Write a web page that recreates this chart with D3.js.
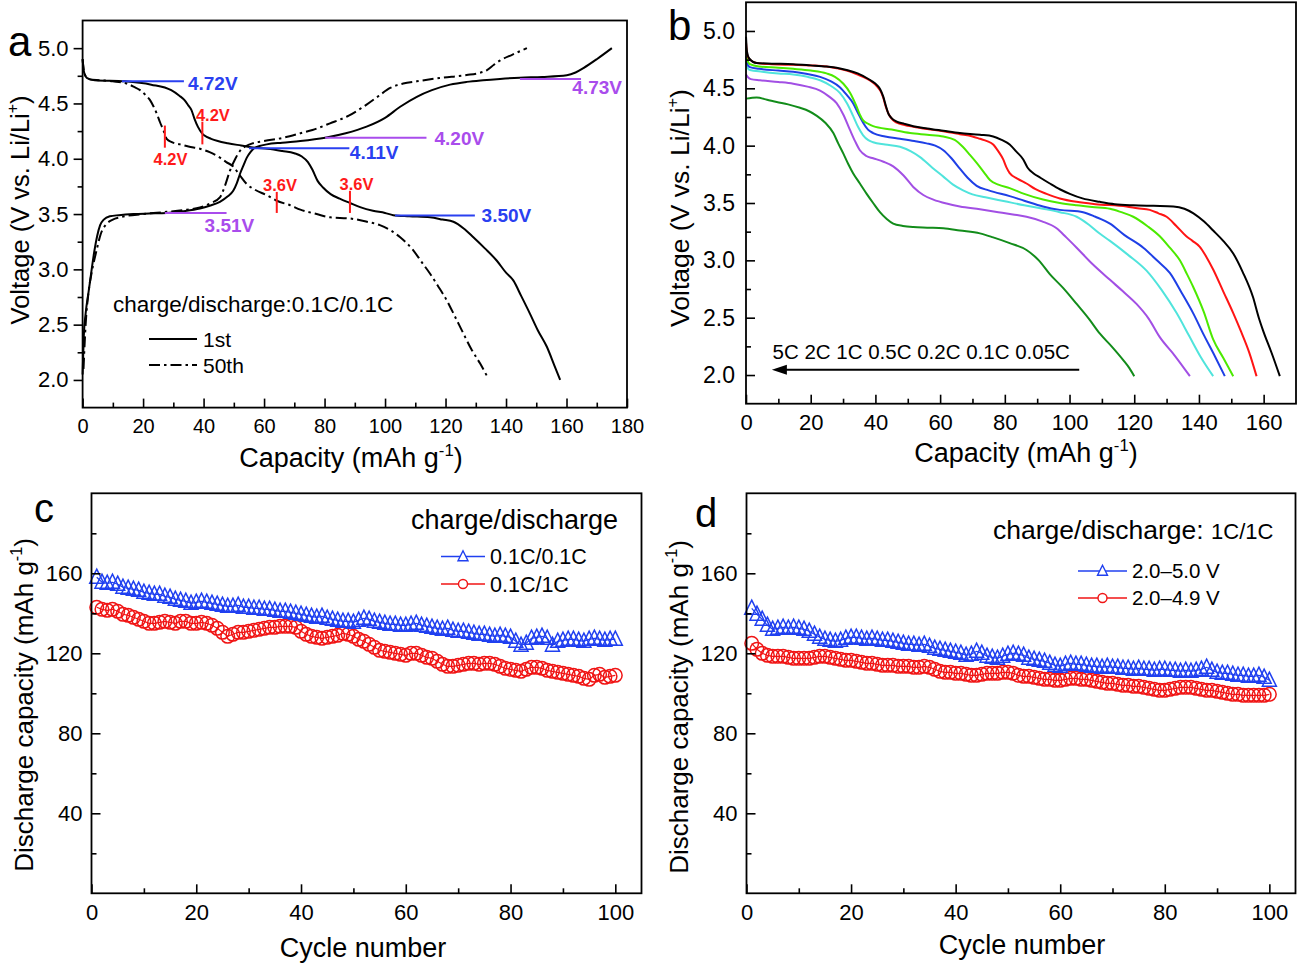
<!DOCTYPE html>
<html><head><meta charset="utf-8">
<script src="https://cdn.jsdelivr.net/npm/d3@7"></script>
<style>body{margin:0;background:#fff}svg{display:block;font-family:"Liberation Sans",Arial,sans-serif}</style>
</head><body><svg id="fig" width="1299" height="964"></svg>
<script>
// ---------------- DATA ----------------
// Panel a: voltage profiles [capacity mAh/g, voltage V]
const aCharge1st = [[0,2.05],[0.4,2.4],[1,2.6],[2,2.8],[3,3.0],[3.8,3.15],[4.8,3.3],[5.8,3.4],[7,3.45],[9,3.48],[12,3.49],[16.8,3.5],[22,3.505],[27.8,3.51],[33,3.525],[38.8,3.55],[42,3.575],[45.4,3.61],[48,3.66],[49.8,3.71],[51,3.78],[52,3.86],[53.2,3.94],[54.3,4.01],[55.5,4.06],[56.5,4.09],[58.5,4.115],[60.9,4.13],[66,4.145],[72,4.16],[80.2,4.19],[87,4.23],[93.9,4.29],[100,4.37],[105,4.47],[110.5,4.56],[115.5,4.62],[121.5,4.67],[127,4.695],[132.4,4.71],[138,4.722],[144.6,4.733],[152,4.74],[160.1,4.755],[163,4.78],[165.6,4.82],[170,4.9],[175,5.0]];
const aCharge50th = [[0.3,2.1],[1,2.5],[2,2.8],[3,2.97],[4.6,3.17],[6,3.32],[7.9,3.41],[10,3.45],[12.3,3.47],[20,3.5],[27.8,3.52],[33,3.535],[38.8,3.56],[42.5,3.6],[45.4,3.65],[47,3.75],[48.7,3.89],[50.5,4.0],[52,4.07],[55.3,4.13],[60,4.16],[66.4,4.19],[72,4.23],[76,4.26],[81.8,4.32],[88,4.39],[93.9,4.49],[98,4.57],[101.7,4.64],[106,4.68],[110.5,4.7],[118,4.73],[127,4.757],[131,4.775],[133.6,4.8],[136,4.85],[138.1,4.89],[142,4.94],[146.9,5.0]];
const aDischarge1st = [[0,4.9],[0.5,4.78],[1.5,4.73],[4,4.71],[14,4.7],[22.7,4.67],[29.3,4.62],[32,4.57],[33.7,4.53],[35,4.48],[36,4.44],[37,4.36],[38.1,4.29],[39.5,4.23],[40.3,4.21],[42.5,4.18],[44.7,4.16],[48,4.14],[52.4,4.12],[57,4.1],[61.2,4.09],[66,4.07],[70,4.05],[72.5,4.02],[74.5,3.97],[76,3.9],[77.7,3.8],[79.5,3.74],[82,3.68],[85,3.64],[88.4,3.6],[92,3.56],[96,3.53],[100,3.51],[102.7,3.49],[108,3.48],[114.9,3.47],[119,3.45],[122.6,3.43],[126,3.37],[129.2,3.29],[133,3.19],[136.9,3.08],[140,2.97],[142.4,2.9],[145,2.76],[147.9,2.6],[150.5,2.45],[153.5,2.3],[156,2.13],[157.9,2.0]];
const aDischarge50th = [[0,4.9],[0.5,4.78],[2,4.72],[5.8,4.71],[10,4.7],[14.6,4.68],[17,4.65],[19,4.62],[21,4.57],[22.3,4.53],[23.5,4.47],[24.5,4.41],[25.6,4.33],[26.7,4.26],[27.8,4.18],[29.5,4.15],[32.2,4.13],[35,4.11],[38.8,4.09],[42,4.06],[45.4,4.01],[47.5,3.97],[49.8,3.93],[52,3.85],[54.3,3.77],[57,3.72],[60.9,3.67],[64.2,3.62],[68.6,3.58],[72,3.54],[77.4,3.5],[81.8,3.47],[88.4,3.46],[94,3.43],[98.3,3.4],[102,3.35],[105,3.29],[109.4,3.17],[112,3.07],[114.9,2.96],[117.5,2.85],[120.4,2.72],[123,2.58],[125.9,2.42],[128.5,2.28],[131.4,2.15],[134.2,2.01]];
// Panel a annotations: plateau levels [label, voltage, capacity from, capacity to, colour key]
const aLevels = [
  ["4.72V", 4.70, 13, 33.5, "blue"],
  ["4.11V", 4.095, 55, 88.2, "blue"],
  ["4.20V", 4.19, 80.2, 113.7, "purple"],
  ["4.73V", 4.72, 144.6, 164.8, "purple"],
  ["3.51V", 3.51, 27.2, 47.6, "purple"],
  ["3.50V", 3.487, 103.3, 129.7, "blue"]
];
// red markers: [label, capacity, V low, V high]
const aMarks = [
  ["4.2V", 39.6, 4.13, 4.335],
  ["4.2V", 27.2, 4.10, 4.30],
  ["3.6V", 64.2, 3.51, 3.70],
  ["3.6V", 88.4, 3.51, 3.71]
];

// Panel b: discharge curves at different rates
const bRates = ["0.05C","0.1C","0.2C","0.5C","1C","2C","5C"];
const b005C = [[0,4.95],[0.3,4.82],[1,4.76],[3.3,4.72],[8,4.715],[14.6,4.71],[20,4.7],[24.9,4.69],[28,4.68],[31.1,4.66],[34.5,4.63],[37.3,4.59],[39,4.56],[40.4,4.53],[41.5,4.49],[42.4,4.43],[43.2,4.35],[44,4.28],[45,4.24],[46.6,4.21],[49,4.19],[51.7,4.17],[56,4.15],[61,4.13],[66.1,4.11],[72.3,4.095],[76.4,4.08],[79,4.05],[81.5,4.01],[83.5,3.95],[85.7,3.88],[87,3.81],[88.8,3.76],[91,3.72],[93.9,3.67],[97,3.62],[100.1,3.58],[104,3.54],[109.4,3.51],[114,3.49],[119.7,3.48],[126,3.475],[132.1,3.47],[135.5,3.45],[138.3,3.41],[141.5,3.34],[144.4,3.26],[147.5,3.17],[150.6,3.06],[153.5,2.9],[156.7,2.68],[158.5,2.5],[159.8,2.39],[162.5,2.19],[165,1.99]];
const b01C = [[0,4.9],[0.3,4.8],[1.2,4.75],[3.3,4.72],[8,4.71],[14.6,4.705],[20,4.7],[24.9,4.69],[28,4.675],[31.1,4.655],[34.5,4.62],[37.3,4.585],[39,4.555],[40.4,4.52],[41.5,4.48],[42.4,4.42],[43.2,4.34],[44.2,4.27],[45.2,4.23],[46.6,4.2],[49,4.18],[51.7,4.165],[56,4.145],[61,4.125],[66.1,4.1],[70,4.08],[72.3,4.06],[74.5,4.04],[76.4,4.01],[78,3.95],[79.5,3.88],[80.5,3.81],[81.5,3.76],[84,3.71],[86.7,3.67],[89.5,3.62],[92.9,3.58],[97,3.54],[102.2,3.51],[108,3.49],[117.6,3.47],[121,3.455],[124.8,3.44],[127.5,3.41],[130,3.38],[133,3.3],[136.1,3.21],[138,3.17],[140.2,3.12],[142.3,3.03],[144.4,2.92],[147.5,2.73],[150.6,2.54],[153,2.38],[155.5,2.2],[157.8,1.99]];
const b02C = [[0,4.86],[0.3,4.76],[1.2,4.71],[4,4.69],[10,4.68],[14.6,4.67],[20,4.655],[24.9,4.63],[27.5,4.6],[30.1,4.54],[32.2,4.46],[34.2,4.34],[35.2,4.27],[36.2,4.22],[37.8,4.19],[39.3,4.17],[45,4.14],[50.7,4.11],[56,4.095],[61,4.08],[64.5,4.05],[67,3.99],[69.2,3.92],[71.3,3.85],[73.5,3.77],[75.4,3.7],[78,3.66],[81.5,3.63],[86,3.58],[91.8,3.53],[97,3.5],[102.2,3.48],[107,3.465],[112.5,3.45],[116,3.42],[119.7,3.38],[124,3.3],[127.9,3.21],[131,3.11],[134.1,3.0],[136.3,2.88],[138.2,2.77],[141.5,2.55],[144.4,2.31],[147.5,2.15],[150.6,1.99]];
const b05C = [[0,4.78],[0.3,4.72],[1.2,4.685],[4,4.67],[10,4.655],[14.6,4.645],[19,4.625],[22.9,4.6],[26.3,4.56],[29,4.51],[31.2,4.44],[33.1,4.37],[34.7,4.28],[36.2,4.2],[37.7,4.14],[39.3,4.11],[43,4.08],[47.6,4.06],[52,4.04],[55.8,4.02],[58.5,4.0],[61,3.96],[63.5,3.89],[66.1,3.8],[68.5,3.72],[71.3,3.65],[75,3.61],[81.5,3.56],[86,3.52],[91.8,3.47],[97,3.44],[104.2,3.42],[108,3.38],[112.5,3.32],[117,3.22],[122.8,3.11],[127,3.0],[131,2.89],[134.6,2.72],[138.2,2.54],[141.5,2.35],[145,2.16],[148,1.99]];
const b1C = [[0,4.74],[0.3,4.69],[1.2,4.66],[5,4.645],[10,4.63],[14.6,4.62],[19,4.6],[22.9,4.57],[26.3,4.52],[29,4.46],[31.2,4.37],[33.1,4.26],[34.7,4.16],[36.2,4.09],[37.7,4.05],[39.3,4.03],[43,4.01],[47.6,3.99],[51,3.95],[53.8,3.9],[57.5,3.81],[61,3.73],[64,3.66],[67.1,3.61],[70,3.575],[74,3.55],[80,3.515],[86,3.48],[91.8,3.45],[97,3.42],[102.2,3.38],[106,3.31],[109,3.24],[112.5,3.17],[118,3.05],[123.8,2.91],[128.5,2.74],[133.1,2.54],[137,2.34],[140.5,2.16],[144.4,1.99]];
const b2C = [[0,4.62],[0.5,4.6],[1.5,4.58],[4.3,4.57],[10,4.555],[14.6,4.54],[19,4.515],[22.9,4.48],[25.6,4.43],[28,4.37],[30.1,4.27],[32.1,4.14],[33.7,4.04],[35.2,3.96],[37.2,3.91],[39.3,3.89],[42.5,3.86],[45.5,3.82],[48.7,3.74],[51.7,3.64],[54.8,3.57],[57.9,3.53],[62,3.495],[66.1,3.47],[72.3,3.445],[78,3.42],[82.5,3.4],[86.7,3.38],[91.5,3.34],[96,3.28],[99,3.2],[102.2,3.11],[107,2.97],[112.5,2.83],[116.5,2.73],[120.7,2.62],[124.5,2.49],[127.9,2.33],[132.5,2.17],[137.2,1.99]];
const b5C = [[0,4.41],[3.3,4.42],[6.5,4.4],[9.5,4.38],[13,4.36],[16.7,4.33],[19.5,4.3],[21.9,4.26],[24.5,4.2],[27,4.11],[28.5,4.02],[30.1,3.93],[31.6,3.84],[33.1,3.76],[35.2,3.67],[37.3,3.58],[39.3,3.5],[41.4,3.42],[43.5,3.36],[45.5,3.32],[48.5,3.3],[51.7,3.29],[56,3.285],[61,3.28],[66.1,3.26],[72.3,3.235],[76.4,3.2],[81.5,3.15],[86.7,3.09],[90.5,3.0],[93.9,2.88],[98,2.76],[102.2,2.62],[106,2.49],[109.4,2.36],[113,2.25],[116.6,2.13],[118.5,2.06],[120,1.99]];
const bCurves = [b005C, b01C, b02C, b05C, b1C, b2C, b5C];

// Panel c: discharge capacity vs cycle (cycles 1..100)
const cycles = d3.range(1, 101);
const cRate01_01 = [158,155.5,155,155.5,154.5,153,152.5,152,151.5,150.5,
 150,149.5,149.5,148.5,148,147,146.5,146,145,145.5,
 146,145.5,145,144.5,144,143.5,143.5,144,143,143,
 142.5,142.5,142,142,141.5,141,141,140.5,140,139.5,
 139,138.5,138,138.5,137.5,137,136.5,136,136,135.5,
 136.5,137.5,137,136,135.5,135,134.5,134.5,134,134,
 134.5,135,134,133.5,133,132.5,132,132.5,131.5,131,
 131,130.5,130,129.5,129.5,129,128.5,129,128.5,128,
 126,124,125,127.5,128,128.5,127.5,124,126,126.5,
 127,127,126.5,126,127,127.5,127,126.5,127,127];
const cRate01_1 = [143,142,141.5,142,141,139.5,139,138,137,136,
 135,135,135.5,136,135.5,135,136,136,135,135,
 135.5,135,134,132.5,130.5,128.5,129.5,130.5,130.5,131,
 131.5,132,132.5,133,133,133.5,133.5,133.5,133,131,
 129.5,128.5,128,127.5,128,128.5,129,130,129.5,128.5,
 127,126,124.5,123,121.5,121,120.5,120,119.5,119,
 120,120,119,118,117.5,116,114.5,113.5,113.5,114,
 114.5,115,115,114.5,115,115,114.5,113.5,112.5,112,
 111.5,111,112,113,113,112.5,111.5,111,110.5,110,
 109.5,109,108.5,107.5,107,109,109.5,108,108.5,109];
// Panel d
const dRange50 = [142.5,139.5,137,134,132,132.5,133,132.5,133,132.5,
 132,131,129.5,128,127,126.5,126,126.5,127.5,128,
 128,127.5,127,127.5,127,126.5,126.5,126,125.5,125,
 124.5,124.5,124,124.5,123.5,122.5,122,121.5,121,120.5,
 120,119,119.5,121,120,118.5,118,117.5,118.5,119.5,
 120,119.5,119,117.5,117,116.5,116,115,114,113.5,
 114.5,115,114.5,114.5,114,113.5,113.5,113,113.5,113,
 113,112.5,112.5,112,112.5,112,112,111.5,112,112,
 111.5,111.5,111,111.5,111,111.5,112,113,111.5,110.5,
 110,110,109.5,109,109,108.5,108.5,109,108,106.5];
const dRange49 = [125,122,120,119,118.5,118.5,118.5,118,117.5,117.5,
 117.5,117.5,118,118.5,118.5,118,117.5,117,116.5,116.5,
 116,115.5,115,115,114.5,114,114,114,113.5,113.5,
 113.5,113,113,113.5,113,112,111,110.5,110.5,110,
 110,109.5,109,109,109.5,110,110,110,110.5,110.5,
 110,109,108.5,108.5,108,107.5,107,107,106.5,106.5,
 107,107.5,107.5,107,107,106.5,106,105.5,105,105,
 104.5,104,104,103.5,103.5,103,102.5,102,101.5,101.5,
 102,102.5,103,103,103,102.5,102,101.5,101.5,101,
 100.5,100,99.5,99.5,99,99,99,99,99,99.5];

// ---------------- STYLE ----------------
const BLUE = "#2a40f0", PURPLE = "#a94cec", RED = "#ff1a1a";
const bColors = ["#000000","#ff1414","#4cea00","#1e3fe6","#50e4dc","#a24fe4","#128c1a"];
const svg = d3.select("#fig");
svg.append("rect").attr("width",1299).attr("height",964).attr("fill","#fff");

function richText(g, x, y, parts, fs, opts = {}) {
  const t = g.append("text").attr("x", x).attr("y", y).attr("font-size", fs)
    .attr("text-anchor", opts.anchor || "middle").attr("fill", "#000");
  if (opts.rotate) t.attr("transform", `rotate(-90,${x},${y})`);
  let prevSup = false;
  parts.forEach(p => {
    const s = t.append("tspan").text(p.t);
    if (p.sup) { s.attr("font-size", fs*0.62).attr("dy", -fs*0.42); prevSup = true; }
    else if (prevSup) { s.attr("dy", fs*0.42); prevSup = false; }
  });
  return t;
}

function drawAxes(g, x, y, cfg) {
  const ax = g.append("g").attr("transform", `translate(0,${y.range()[0]})`);
  ax.call(d3.axisBottom(x).tickValues(cfg.xMajor).tickSize(-cfg.majLen).tickPadding(cfg.xPad).tickFormat(d3.format("d")));
  ax.append("g").call(d3.axisBottom(x).tickValues(cfg.xMinor).tickSize(-cfg.minLen).tickFormat(""));
  const ay = g.append("g").attr("transform", `translate(${x.range()[0]},0)`);
  const ySize = cfg.yOut ? cfg.majLen : -cfg.majLen;
  ay.call(d3.axisLeft(y).tickValues(cfg.yMajor).tickSize(ySize).tickPadding(cfg.yPad).tickFormat(cfg.yFmt));
  ay.append("g").call(d3.axisLeft(y).tickValues(cfg.yMinor).tickSize(cfg.yOut ? cfg.minLen : -cfg.minLen).tickFormat(""));
  g.selectAll(".domain").remove();
  g.selectAll(".tick line").attr("stroke", "#000").attr("stroke-width", 1.6);
  ax.selectAll(".tick text").attr("font-size", cfg.fs);
  ay.selectAll(".tick text").attr("font-size", cfg.yfs || cfg.fs);
  g.selectAll(".tick text").attr("fill", "#000").attr("font-family", '"Liberation Sans",Arial,sans-serif');
  g.append("rect").attr("x", x.range()[0]).attr("y", y.range()[1])
    .attr("width", x.range()[1]-x.range()[0]).attr("height", y.range()[0]-y.range()[1])
    .attr("fill", "none").attr("stroke", "#000").attr("stroke-width", 1.8);
}

// ---------------- PANEL A ----------------
{
  const g = svg.append("g");
  const x = d3.scaleLinear().domain([0,180]).range([82.6, 627]);
  const y = d3.scaleLinear().domain([1.75,5.25]).range([407.6, 20.5]);
  const line = d3.line().x(d=>x(d[0])).y(d=>y(d[1])).curve(d3.curveMonotoneX);
  [aCharge1st, aDischarge1st].forEach(d => {
    g.append("path").attr("d", line(d)).attr("stroke","#000").attr("stroke-width",2).attr("fill","none");
  });
  [aCharge50th, aDischarge50th].forEach(d => {
    g.append("path").attr("d", line(d)).attr("stroke","#000").attr("stroke-width",2).attr("fill","none")
      .attr("stroke-dasharray","11,4,2.5,4");
  });
  const levelLayout = {"4.72V":[4,1.5,"start"],"4.11V":[0.5,4,"start"],"4.20V":[8,0,"start"],
    "4.73V":[41,8.4,"end"],"3.51V":[-22,12.7,"start"],"3.50V":[6.7,0,"start"]};
  aLevels.forEach(([lab, v, c0, c1, col]) => {
    const color = col === "blue" ? BLUE : PURPLE;
    g.append("line").attr("x1", x(c0)).attr("x2", x(c1)).attr("y1", y(v)).attr("y2", y(v))
      .attr("stroke", color).attr("stroke-width", 2);
    const [dx, dy, anc] = levelLayout[lab];
    g.append("text").attr("x", x(c1)+dx).attr("y", y(v)+dy).attr("dy","0.36em")
      .attr("text-anchor", anc).attr("font-size", 19).attr("font-weight","bold")
      .attr("fill", color).text(lab);
  });
  const markLayout = [[10.5,-7,"above"],[5.6,11,"below"],[3.3,-7,"above"],[6.5,-7,"above"]];
  aMarks.forEach(([lab, c, v0, v1], i) => {
    g.append("line").attr("x1", x(c)).attr("x2", x(c)).attr("y1", y(v0)).attr("y2", y(v1))
      .attr("stroke", RED).attr("stroke-width", 2);
    const [dx, dy, where] = markLayout[i];
    const yy = where === "above" ? y(v1)+dy : y(v0)+dy;
    g.append("text").attr("x", x(c)+dx).attr("y", yy).attr("dy","0.36em").attr("text-anchor","middle")
      .attr("font-size", 16.5).attr("font-weight","bold").attr("fill", RED).text(lab);
  });
  drawAxes(g, x, y, {xMajor:d3.range(0,181,20), xMinor:d3.range(10,180,20),
    yMajor:[2,2.5,3,3.5,4,4.5,5], yMinor:[2.25,2.75,3.25,3.75,4.25,4.75],
    yFmt:d3.format(".1f"), majLen:9, minLen:5, xPad:11, yPad:5, yOut:true, fs:20, yfs:22});
  g.append("text").attr("x",113).attr("y",304).attr("dy","0.36em").attr("font-size",22.5).text("charge/discharge:0.1C/0.1C");
  g.append("line").attr("x1",149).attr("x2",197).attr("y1",339).attr("y2",339).attr("stroke","#000").attr("stroke-width",2);
  g.append("line").attr("x1",149).attr("x2",197).attr("y1",365).attr("y2",365).attr("stroke","#000").attr("stroke-width",2).attr("stroke-dasharray","11,4,2.5,4");
  g.append("text").attr("x",203).attr("y",339).attr("dy","0.36em").attr("font-size",21).text("1st");
  g.append("text").attr("x",203).attr("y",365).attr("dy","0.36em").attr("font-size",21).text("50th");
  richText(g, 351, 467, [{t:"Capacity (mAh g"},{t:"-1",sup:true},{t:")"}], 27);
  richText(g, 29, 210, [{t:"Voltage (V vs. Li/Li"},{t:"+",sup:true},{t:")"}], 25.5, {rotate:true});
  g.append("text").attr("x",8).attr("y",56).attr("font-size",42).text("a");
}

// ---------------- PANEL B ----------------
{
  const g = svg.append("g");
  const x = d3.scaleLinear().domain([0,170]).range([746, 1296]);
  const y = d3.scaleLinear().domain([1.75,5.25]).range([403.7, 2.3]);
  const line = d3.line().x(d=>x(d[0])).y(d=>y(d[1])).curve(d3.curveMonotoneX);
  bCurves.map((d,i)=>[d,i]).reverse().forEach(([d,i]) => {
    g.append("path").attr("d", line(d)).attr("fill","none").attr("stroke", bColors[i]).attr("stroke-width", 2);
  });
  drawAxes(g, x, y, {xMajor:d3.range(0,161,20), xMinor:d3.range(10,170,20),
    yMajor:[2,2.5,3,3.5,4,4.5,5], yMinor:[2.25,2.75,3.25,3.75,4.25,4.75],
    yFmt:d3.format(".1f"), majLen:9, minLen:5, xPad:11, yPad:11, yOut:false, fs:22, yfs:23});
  const arrowV = 2.045;
  g.append("text").attr("x", x(8.2)).attr("y", y(2.14)).attr("font-size", 20.5)
    .text(bRates.slice().reverse().join(" "));
  g.append("line").attr("x1", x(103)).attr("x2", x(8)+12).attr("y1", y(arrowV)).attr("y2", y(arrowV))
    .attr("stroke","#000").attr("stroke-width",2);
  const ax0 = x(8), ay0 = y(arrowV);
  g.append("path").attr("d", `M${ax0},${ay0} L${ax0+15},${ay0-5} L${ax0+15},${ay0+5} Z`).attr("fill","#000");
  richText(g, 1026, 462, [{t:"Capacity (mAh g"},{t:"-1",sup:true},{t:")"}], 27);
  richText(g, 689, 208, [{t:"Voltage (V vs. Li/Li"},{t:"+",sup:true},{t:")"}], 26.5, {rotate:true});
  g.append("text").attr("x",668).attr("y",40).attr("font-size",42).text("b");
}

// ---------------- PANELS C & D ----------------
function triPath(s) { return `M0,${-s*0.58} L${s*0.5},${s*0.42} L${-s*0.5},${s*0.42} Z`; }
function cyclePanel(cfg) {
  const g = svg.append("g");
  const x = d3.scaleLinear().domain([0,105]).range(cfg.xr);
  const y = d3.scaleLinear().domain([0,200]).range([893.3, 493.3]);
  const line = d3.line().x((d,i)=>x(cycles[i])).y(d=>y(d));
  g.append("path").attr("d", line(cfg.red)).attr("fill","none").attr("stroke","#f01414").attr("stroke-width",1.2);
  g.selectAll(null).data(cfg.red).enter().append("circle")
    .attr("cx",(d,i)=>x(cycles[i])).attr("cy",d=>y(d)).attr("r",6.8)
    .attr("fill","none").attr("stroke","#f01414").attr("stroke-width",1.5);
  g.append("path").attr("d", line(cfg.blue)).attr("fill","none").attr("stroke","#2040f0").attr("stroke-width",1.2);
  g.selectAll(null).data(cfg.blue).enter().append("path")
    .attr("transform",(d,i)=>`translate(${x(cycles[i])},${y(d)})`).attr("d", triPath(14))
    .attr("fill","none").attr("stroke","#2040f0").attr("stroke-width",1.5);
  drawAxes(g, x, y, {xMajor:d3.range(0,101,20), xMinor:d3.range(10,100,20),
    yMajor:[40,80,120,160], yMinor:[20,60,100,140,180], yFmt:d3.format("d"),
    majLen:9, minLen:5, xPad:11, yPad:9, yOut:false, fs:22});
  const L = cfg.leg;
  cfg.legendTitle(g);
  [[L.y1,"#2040f0","tri",cfg.names[0]],[L.y2,"#f01414","circ",cfg.names[1]]].forEach(([yy,col,sym,name]) => {
    g.append("line").attr("x1",L.x0).attr("x2",L.x1).attr("y1",yy).attr("y2",yy).attr("stroke",col).attr("stroke-width",1.5);
    const cx = (L.x0+L.x1)/2;
    if (sym==="tri") g.append("path").attr("transform",`translate(${cx},${yy})`).attr("d",triPath(10)).attr("fill","#fff").attr("stroke",col).attr("stroke-width",1.4);
    else g.append("circle").attr("cx",cx).attr("cy",yy).attr("r",4.5).attr("fill","#fff").attr("stroke",col).attr("stroke-width",1.4);
    g.append("text").attr("x",L.tx).attr("y",yy).attr("dy","0.36em").attr("font-size",L.fs).text(name);
  });
  richText(g, cfg.xTitleX, cfg.xTitleY, [{t:"Cycle number"}], 27);
  richText(g, cfg.yTitleX, cfg.yTitleY, [{t:"Discharge capacity (mAh g"},{t:"-1",sup:true},{t:")"}], 26, {rotate:true});
  g.append("text").attr("x",cfg.lab[0]).attr("y",cfg.lab[1]).attr("font-size",40).text(cfg.lab[2]);
}

cyclePanel({xr:[91.5,641.5], blue:cRate01_01, red:cRate01_1, names:["0.1C/0.1C","0.1C/1C"],
  leg:{x0:441,x1:485,tx:490,y1:556.5,y2:584,fs:21.5},
  legendTitle:g=>g.append("text").attr("x",411).attr("y",519).attr("dy","0.36em").attr("font-size",27).text("charge/discharge"),
  xTitleX:363, xTitleY:957, yTitleX:33, yTitleY:705, lab:[34,522,"c"]});

cyclePanel({xr:[746.5,1295.5], blue:dRange50, red:dRange49, names:["2.0\u20135.0 V","2.0\u20134.9 V"],
  leg:{x0:1078,x1:1127,tx:1132,y1:571,y2:598,fs:20.5},
  legendTitle:g=>{ const t = g.append("text").attr("x",993).attr("y",529).attr("dy","0.36em").attr("font-size",26.5);
    t.append("tspan").text("charge/discharge: ");
    t.append("tspan").attr("font-size",22).text("1C/1C"); },
  xTitleX:1022, xTitleY:954, yTitleX:688, yTitleY:707, lab:[695,527,"d"]});
</script></body></html>
